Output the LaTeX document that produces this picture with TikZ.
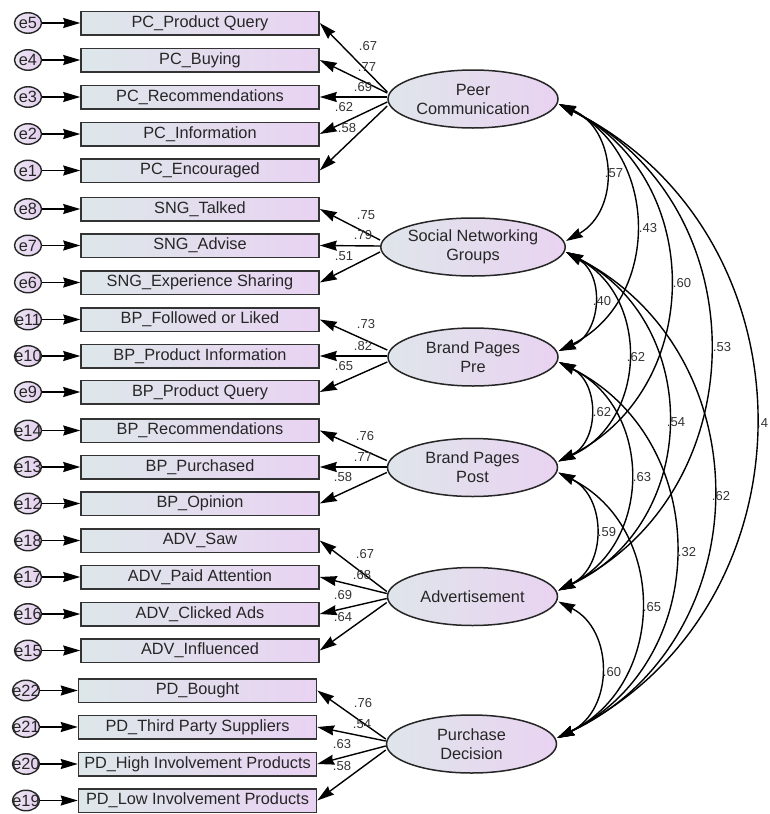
\documentclass[tikz,border=0pt]{standalone}
\usepackage{fontspec}
\setmainfont{Liberation Sans}
\usetikzlibrary{arrows.meta,shapes.geometric}
\definecolor{boxL}{HTML}{DDE7EA}
\definecolor{boxR}{HTML}{E9D3F2}
\definecolor{ellL}{HTML}{DFE5EA}
\definecolor{ellR}{HTML}{E9D3F1}
\definecolor{errL}{HTML}{ECE6F2}
\definecolor{errR}{HTML}{E3CEEF}
\begin{document}
\begin{tikzpicture}[x=1pt,y=-1pt,
  obs/.style={draw=black!80, line width=1.5pt, left color=boxL, right color=boxR,
    minimum width=238pt, minimum height=23.5pt, inner sep=0pt,
    font=\fontsize{16.3}{19.5}\selectfont, text=black!85},
  lat/.style={ellipse, draw=black!85, line width=1.5pt, left color=ellL, right color=ellR,
    minimum width=170pt, minimum height=58pt, inner sep=0pt, align=center,
    font=\fontsize{16.3}{19}\selectfont, text=black!85},
  err/.style={ellipse, draw=black!85, line width=1.4pt, left color=errL, right color=errR,
    minimum width=27pt, minimum height=20.5pt, inner sep=0pt,
    font=\fontsize{16.3}{18}\selectfont, text=black!85},
  tip/.tip={Stealth[length=17pt,width=10pt,inset=1.5pt]},
  arr/.style={line width=1.4pt, -tip},
  cov/.style={line width=1.4pt, tip-tip, bend left=63.6, looseness=1.18},
  coef/.style={font=\fontsize{13}{15}\selectfont, text=black!80, inner sep=0pt}]
\useasboundingbox (0,0) rectangle (769,814);

% indicators and errors
\foreach \n/\y/\t in {5/23/PC\_Product Query, 4/60/PC\_Buying, 3/97/PC\_Recommendations,
  2/134/PC\_Information, 1/170.5/PC\_Encouraged, 8/209/SNG\_Talked, 7/245.5/SNG\_Advise,
  6/282.5/SNG\_Experience Sharing, 11/319.5/BP\_Followed or Liked,
  10/356/BP\_Product Information, 9/392/BP\_Product Query, 14/430.5/BP\_Recommendations,
  13/467/BP\_Purchased, 12/503.5/BP\_Opinion, 18/540.5/ADV\_Saw,
  17/577/ADV\_Paid Attention, 16/614/ADV\_Clicked Ads, 15/650.5/ADV\_Influenced}{
  \node[obs] (b\n) at (200,\y) {\t};
  \node[err] (e\n) at (28,\y) {\makebox[0pt]{e\n}};
  \draw[arr] (e\n) -- (b\n);
}
\foreach \n/\y/\t in {22/690.5/PD\_Bought, 21/727/PD\_Third Party Suppliers,
  20/764/PD\_High Involvement Products, 19/800.5/PD\_Low Involvement Products}{
  \node[obs] (b\n) at (197.5,\y) {\t};
  \node[err] (e\n) at (26,\y) {\makebox[0pt]{e\n}};
  \draw[arr] (e\n) -- (b\n);
}

% latent factors
\node[lat] (pc)  at (473,99)    {Peer\\Communication};
\node[lat] (sng) at (473,247)   {Social Networking\\Groups};
\node[lat] (bpa) at (473,357)   {Brand Pages\\Pre};
\node[lat] (bpb) at (472.5,467.5) {Brand Pages\\Post};
\node[lat] (adv) at (472.5,596.5) {Advertisement};
\node[lat] (pd)  at (471.5,744)   {Purchase\\Decision};

% loadings
\foreach \b/\s in {5/7,4/6,3/2,2/-3,1/-7} \draw[arr] ([yshift=\s pt]pc.west) -- (b\b.east);
\foreach \b/\s in {8/7,7/1,6/-5} \draw[arr] ([yshift=\s pt]sng.west) -- (b\b.east);
\foreach \b/\s in {11/7,10/1,9/-5} \draw[arr] ([yshift=\s pt]bpa.west) -- (b\b.east);
\foreach \b/\s in {14/7,13/0.5,12/-5} \draw[arr] ([yshift=\s pt]bpb.west) -- (b\b.east);
\foreach \b/\s in {18/5,17/3,16/-2,15/-6} \draw[arr] ([yshift=\s pt]adv.west) -- (b\b.east);
\foreach \b/\s in {22/5,21/3,20/-2,19/-6} \draw[arr] ([yshift=\s pt]pd.west) -- (b\b.east);

% loading coefficients
\node[coef] (l5) at (368,46) {.67};
\node[coef] (l4) at (367,67) {.77};
\node[coef] (l3) at (363,87) {.69};
\node[coef] (l2) at (344,107) {.62};
\node[coef] (l1) at (347,128) {.58};
\node[coef] (l8) at (366,215) {.75};
\node[coef] (l7) at (363,235) {.79};
\node[coef] (l6) at (344,256) {.51};
\node[coef] (l11) at (366,324) {.73};
\node[coef] (l10) at (363,346) {.82};
\node[coef] (l9) at (344,366) {.65};
\node[coef] (l14) at (365,436) {.76};
\node[coef] (l13) at (363,457) {.77};
\node[coef] (l12) at (343,477) {.58};
\node[coef] (l18) at (365,554) {.67};
\node[coef] (l17) at (362,575) {.68};
\node[coef] (l16) at (343,595) {.69};
\node[coef] (l15) at (343,617) {.64};
\node[coef] (l22) at (363,703) {.76};
\node[coef] (l21) at (362,724) {.54};
\node[coef] (l20) at (342,744) {.63};
\node[coef] (l19) at (342,766) {.58};

% covariances
\draw[cov] ([yshift=-5pt]pc.east) to ([yshift=6pt]sng.east);
\draw[cov] ([yshift=-5pt]pc.east) to ([yshift=6pt]bpa.east);
\draw[cov] ([yshift=-5pt]pc.east) to ([yshift=6pt]bpb.east);
\draw[cov] ([yshift=-5pt]pc.east) to ([yshift=6pt]adv.east);
\draw[cov] ([yshift=-5pt]pc.east) to ([yshift=6pt]pd.east);
\draw[cov] ([yshift=-5pt]sng.east) to ([yshift=6pt]bpa.east);
\draw[cov] ([yshift=-5pt]sng.east) to ([yshift=6pt]bpb.east);
\draw[cov] ([yshift=-5pt]sng.east) to ([yshift=6pt]adv.east);
\draw[cov] ([yshift=-5pt]sng.east) to ([yshift=6pt]pd.east);
\draw[cov] ([yshift=-5pt]bpa.east) to ([yshift=6pt]bpb.east);
\draw[cov] ([yshift=-5pt]bpa.east) to ([yshift=6pt]adv.east);
\draw[cov] ([yshift=-5pt]bpa.east) to ([yshift=6pt]pd.east);
\draw[cov] ([yshift=-5pt]bpb.east) to ([yshift=6pt]adv.east);
\draw[cov] ([yshift=-5pt]bpb.east) to ([yshift=6pt]pd.east);
\draw[cov] ([yshift=-5pt]adv.east) to ([yshift=6pt]pd.east);

% covariance coefficients
\node[coef] (c1) at (614,173) {.57};
\node[coef] (c2) at (648,228) {.43};
\node[coef] (c3) at (682,283) {.60};
\node[coef] (c4) at (722,347) {.53};
\node[coef, anchor=west] (c5) at (757,423) {.4};
\node[coef] (c6) at (602,301) {.40};
\node[coef] (c7) at (636,357) {.62};
\node[coef] (c8) at (676,422) {.54};
\node[coef] (c9) at (721,496) {.62};
\node[coef] (c10) at (602,412) {.62};
\node[coef] (c11) at (642,477) {.63};
\node[coef] (c12) at (687,552) {.32};
\node[coef] (c13) at (607,532) {.59};
\node[coef] (c14) at (652,607) {.65};
\node[coef] (c15) at (612,672) {.60};
\end{tikzpicture}
\end{document}
